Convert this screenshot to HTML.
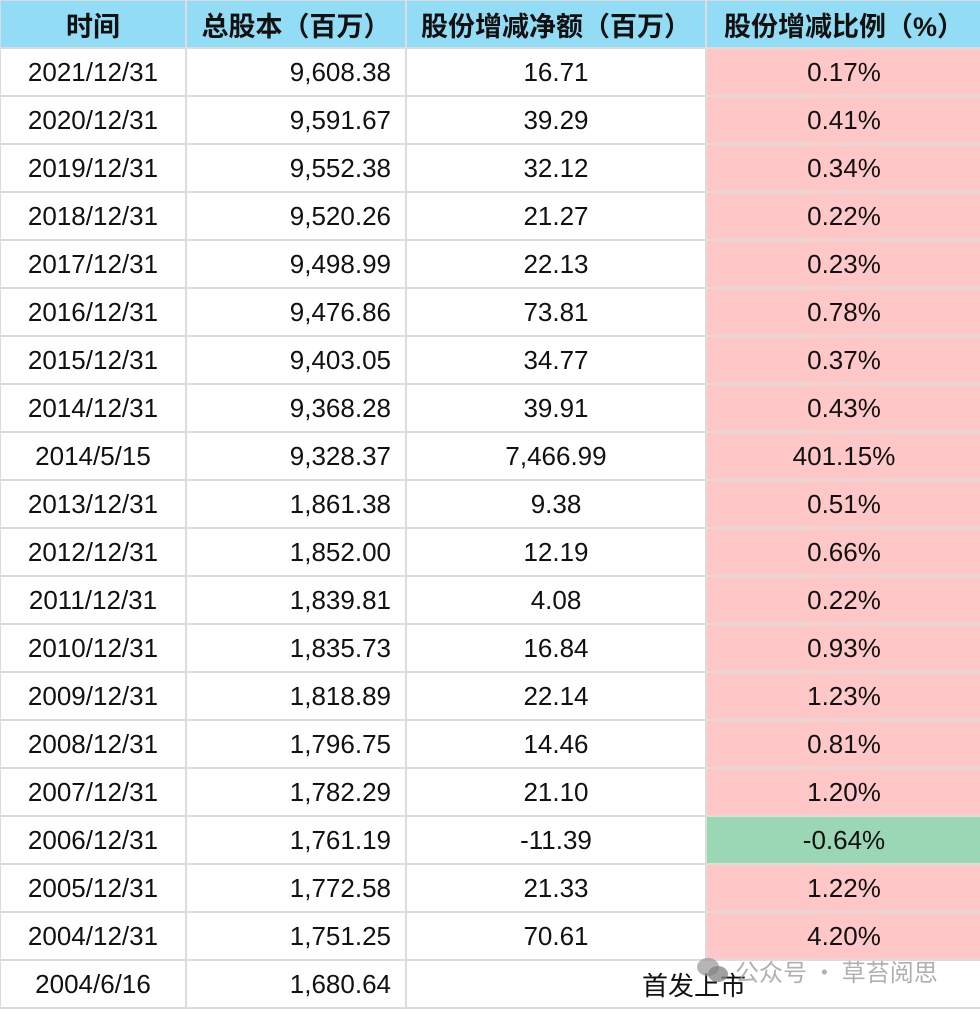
<!DOCTYPE html>
<html><head><meta charset="utf-8"><style>
body{margin:0;width:980px;height:1010px;background:#fff;overflow:hidden;position:relative}
table{border-collapse:collapse;table-layout:fixed;width:982px;position:absolute;left:-1px;top:-1px;font-family:"Liberation Sans","Noto Sans CJK SC",sans-serif;font-size:26px;color:#111}
td,th{border:2px solid #dcdcdc;height:46px;padding:0;text-align:center}
th{background:#93dcf6;font-weight:bold;font-size:27px}
td.r{text-align:right;padding-right:14px}
td.p{background:#ffc7c7}
td.g{background:#9bd7b5}
.wm{position:absolute;left:735px;top:953px;font-family:"Noto Sans CJK SC",sans-serif;font-size:24px;color:rgba(150,150,150,0.75)}
.ic{position:absolute;left:697px;top:958px;width:22px;height:18px;border-radius:50%;background:rgba(150,150,150,0.7)}
.ic2{position:absolute;left:708px;top:966px;width:20px;height:16px;border-radius:50%;background:rgba(130,130,130,0.75)}
</style></head><body>
<table>
<colgroup><col style="width:186px"><col style="width:220px"><col style="width:300px"><col style="width:276px"></colgroup>
<tr><th>时间</th><th>总股本（百万）</th><th>股份增减净额（百万）</th><th>股份增减比例（%）</th></tr>
<tr><td>2021/12/31</td><td class="r">9,608.38</td><td>16.71</td><td class="p">0.17%</td></tr>
<tr><td>2020/12/31</td><td class="r">9,591.67</td><td>39.29</td><td class="p">0.41%</td></tr>
<tr><td>2019/12/31</td><td class="r">9,552.38</td><td>32.12</td><td class="p">0.34%</td></tr>
<tr><td>2018/12/31</td><td class="r">9,520.26</td><td>21.27</td><td class="p">0.22%</td></tr>
<tr><td>2017/12/31</td><td class="r">9,498.99</td><td>22.13</td><td class="p">0.23%</td></tr>
<tr><td>2016/12/31</td><td class="r">9,476.86</td><td>73.81</td><td class="p">0.78%</td></tr>
<tr><td>2015/12/31</td><td class="r">9,403.05</td><td>34.77</td><td class="p">0.37%</td></tr>
<tr><td>2014/12/31</td><td class="r">9,368.28</td><td>39.91</td><td class="p">0.43%</td></tr>
<tr><td>2014/5/15</td><td class="r">9,328.37</td><td>7,466.99</td><td class="p">401.15%</td></tr>
<tr><td>2013/12/31</td><td class="r">1,861.38</td><td>9.38</td><td class="p">0.51%</td></tr>
<tr><td>2012/12/31</td><td class="r">1,852.00</td><td>12.19</td><td class="p">0.66%</td></tr>
<tr><td>2011/12/31</td><td class="r">1,839.81</td><td>4.08</td><td class="p">0.22%</td></tr>
<tr><td>2010/12/31</td><td class="r">1,835.73</td><td>16.84</td><td class="p">0.93%</td></tr>
<tr><td>2009/12/31</td><td class="r">1,818.89</td><td>22.14</td><td class="p">1.23%</td></tr>
<tr><td>2008/12/31</td><td class="r">1,796.75</td><td>14.46</td><td class="p">0.81%</td></tr>
<tr><td>2007/12/31</td><td class="r">1,782.29</td><td>21.10</td><td class="p">1.20%</td></tr>
<tr><td>2006/12/31</td><td class="r">1,761.19</td><td>-11.39</td><td class="g">-0.64%</td></tr>
<tr><td>2005/12/31</td><td class="r">1,772.58</td><td>21.33</td><td class="p">1.22%</td></tr>
<tr><td>2004/12/31</td><td class="r">1,751.25</td><td>70.61</td><td class="p">4.20%</td></tr>
<tr><td>2004/6/16</td><td class="r">1,680.64</td><td colspan="2">首发上市</td></tr>
</table>
<div class="ic"></div><div class="ic2"></div>
<div class="wm">公众号 · 草苔阅思</div>
</body></html>
